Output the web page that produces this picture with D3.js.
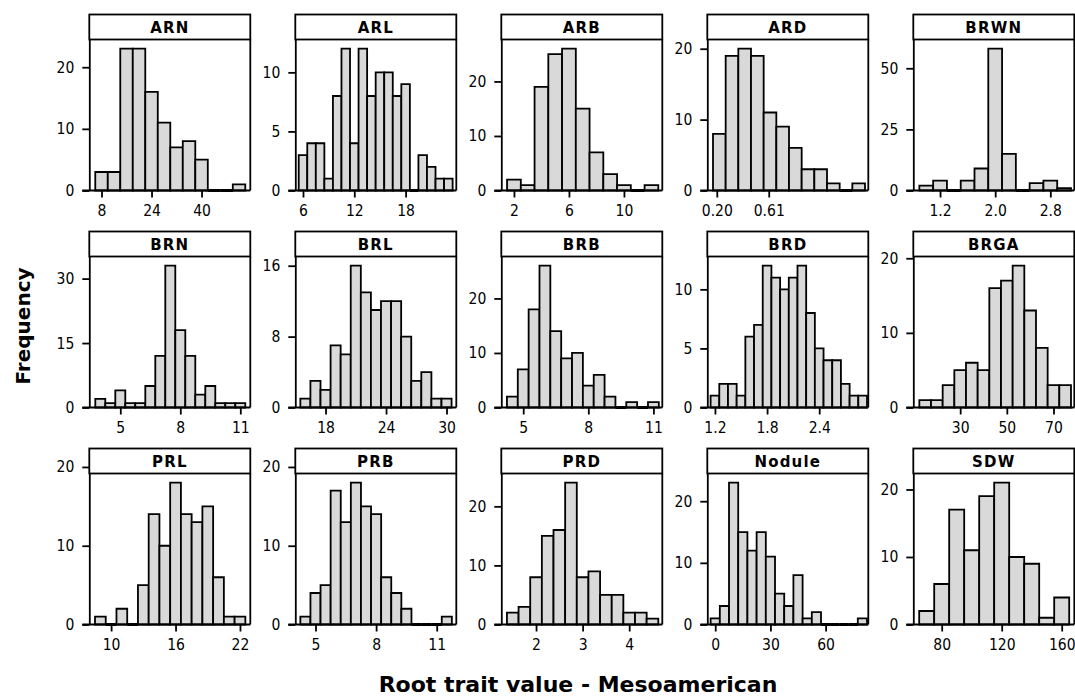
<!DOCTYPE html>
<html>
<head>
<meta charset="utf-8">
<script src="https://cdn.jsdelivr.net/npm/d3@7"></script>
<style>
  body { margin: 0; background: #fff; }
  svg text { font-family: "DejaVu Sans", Verdana, sans-serif; fill: #000; }
  svg .tick text { font-family: "DejaVu Sans Condensed", "DejaVu Sans", sans-serif; }
</style>
</head>
<body>
<svg id="chart" width="1075" height="698"></svg>
<script>
// Root trait histograms, one panel per trait (frequency of lines per bin)
const traits = ["ARN", "ARL", "ARB", "ARD", "BRWN",
                "BRN", "BRL", "BRB", "BRD", "BRGA",
                "PRL", "PRB", "PRD", "Nodule", "SDW"];

// lower edge of the first bin and bin width for each trait
const binStart = [6, 5.5, 1.5, 0.17, 0.9,
                  3.75, 15.5, 4.25, 1.15, 12.5,
                  8.5, 4.25, 1.375, -2.5, 65];
const binWidth = [4, 1, 1, 0.1, 0.2,
                  0.5, 1, 0.5, 0.1, 5,
                  1, 0.5, 0.25, 5, 10];

// counts per bin
const counts = [
  [3, 3, 23, 23, 16, 11, 7, 8, 5, 0, 0, 1],
  [3, 4, 4, 1, 8, 12, 4, 12, 8, 10, 10, 8, 9, 0, 3, 2, 1, 1],
  [2, 1, 19, 25, 26, 15, 7, 3, 1, 0, 1],
  [8, 19, 20, 19, 11, 9, 6, 3, 3, 1, 0, 1],
  [2, 4, 0, 4, 9, 58, 15, 0, 3, 4, 1],
  [2, 1, 4, 1, 1, 5, 12, 33, 18, 12, 3, 5, 1, 1, 1],
  [1, 3, 2, 7, 6, 16, 13, 11, 12, 12, 8, 3, 4, 1, 1],
  [2, 7, 18, 26, 14, 9, 10, 4, 6, 2, 0, 1, 0, 1],
  [1, 2, 2, 1, 6, 7, 12, 11, 10, 11, 12, 8, 5, 4, 4, 2, 1, 1],
  [1, 1, 3, 5, 6, 5, 16, 17, 19, 13, 8, 3, 3],
  [1, 0, 2, 0, 5, 14, 10, 18, 14, 13, 15, 6, 1, 1],
  [1, 4, 5, 17, 13, 18, 15, 14, 6, 4, 2, 0, 0, 0, 1],
  [2, 3, 8, 15, 16, 24, 8, 9, 5, 5, 2, 2, 1],
  [1, 3, 23, 15, 12, 15, 11, 5, 3, 8, 1, 2, 0, 0, 0, 0, 1],
  [2, 6, 17, 11, 19, 21, 10, 9, 1, 4]
];

// x-axis limits of each panel
const xLimits = [
  [4.09, 55.6], [5.1, 23.93], [1.08, 12.79], [0.125, 1.396], [0.812, 3.148],
  [3.45, 11.5], [15.0, 30.97], [3.99, 11.41], [1.112, 2.965], [9.91, 78.92],
  [7.97, 22.96], [4.0, 11.97], [1.254, 4.711], [-4.31, 83.21], [61.07, 168.4]
];

const xTicks = [
  [8, 24, 40], [6, 12, 18], [2, 6, 10], [0.20, 0.61], [1.2, 2.0, 2.8],
  [5, 8, 11], [18, 24, 30], [5, 8, 11], [1.2, 1.8, 2.4], [30, 50, 70],
  [10, 16, 22], [5, 8, 11], [2, 3, 4], [0, 30, 60], [80, 120, 160]
];
const xTickLabels = [
  ["8", "24", "40"], ["6", "12", "18"], ["2", "6", "10"], ["0.20", "0.61"], ["1.2", "2.0", "2.8"],
  ["5", "8", "11"], ["18", "24", "30"], ["5", "8", "11"], ["1.2", "1.8", "2.4"], ["30", "50", "70"],
  ["10", "16", "22"], ["5", "8", "11"], ["2", "3", "4"], ["0", "30", "60"], ["80", "120", "160"]
];
const yTicks = [
  [0, 10, 20], [0, 5, 10], [0, 10, 20], [0, 10, 20], [0, 25, 50],
  [0, 15, 30], [0, 8, 16], [0, 10, 20], [0, 5, 10], [0, 10, 20],
  [0, 10, 20], [0, 10, 20], [0, 10, 20], [0, 10, 20], [0, 10, 20]
];

const xTitle = "Root trait value - Mesoamerican";
const yTitle = "Frequency";

// panel grid
const colLeft = 89.3, colStep = 206, plotW = 161;
const rowTop = 39.5, rowStep = 217, plotH = 151, stripH = 25;
const lineW = 1.8;

const svg = d3.select("#chart");

traits.forEach((name, i) => {
  const col = i % 5, row = Math.floor(i / 5);
  const left = colLeft + col * colStep;
  const top = rowTop + row * rowStep;
  const bottom = top + plotH;

  const x = d3.scaleLinear().domain(xLimits[i]).range([left, left + plotW]);
  const y = d3.scaleLinear().domain([0, d3.max(counts[i]) * 1.065]).range([bottom, top]);

  const g = svg.append("g").attr("class", "panel");

  const bins = counts[i].map((c, k) => ({
    lo: binStart[i] + k * binWidth[i],
    hi: binStart[i] + (k + 1) * binWidth[i],
    c
  }));

  // bars (empty bins show as a heavy line on the baseline)
  g.selectAll("path.bar").data(bins).join("path")
    .attr("class", "bar")
    .attr("d", b => `M${x(b.lo)},${y(0)}V${y(b.c)}H${x(b.hi)}V${y(0)}Z`)
    .attr("fill", "#d9d9d9")
    .attr("stroke", "#000")
    .attr("stroke-width", b => b.c === 0 ? 3.2 : lineW)
    .attr("stroke-linejoin", "miter");

  // right edge of the frame
  g.append("line")
    .attr("x1", left + plotW).attr("x2", left + plotW)
    .attr("y1", top).attr("y2", bottom)
    .attr("stroke", "#000").attr("stroke-width", lineW);

  // y axis
  const yAxis = g.append("g")
    .attr("transform", `translate(${left},0)`)
    .call(d3.axisLeft(y).tickValues(yTicks[i]).tickFormat(d3.format("d"))
      .tickSize(7).tickSizeOuter(0).tickPadding(8));

  // x axis
  const labels = xTickLabels[i];
  const xAxis = g.append("g")
    .attr("transform", `translate(0,${bottom})`)
    .call(d3.axisBottom(x).tickValues(xTicks[i])
      .tickFormat((d, k) => labels[k])
      .tickSize(7).tickSizeOuter(0).tickPadding(7));

  [yAxis, xAxis].forEach(a => {
    a.attr("font-family", null).attr("font-size", null);
    a.select(".domain").attr("stroke", "#000").attr("stroke-width", lineW);
    a.selectAll(".tick line").attr("stroke", "#000").attr("stroke-width", lineW);
    a.selectAll(".tick text").style("font-size", "15.5px").attr("fill", "#000");
  });
  // extend baseline left to meet the y-axis zero tick
  xAxis.select(".domain").attr("d", `M${left - 7},0H${left + plotW}`);

  // strip with the trait name
  g.append("rect")
    .attr("x", left).attr("y", top - stripH)
    .attr("width", plotW).attr("height", stripH)
    .attr("fill", "#fff").attr("stroke", "#000").attr("stroke-width", lineW);
  g.append("text")
    .attr("x", left + plotW / 2).attr("y", top - 7)
    .attr("text-anchor", "middle")
    .style("font-size", "15px").style("font-weight", "bold")
    .style("letter-spacing", "1.2px")
    .text(name);
});

// axis titles
svg.append("text")
  .attr("x", 578).attr("y", 692)
  .attr("text-anchor", "middle")
  .style("font-size", "22px").style("font-weight", "bold")
  .text(xTitle);

svg.append("text")
  .attr("transform", "translate(30,326) rotate(-90)")
  .attr("text-anchor", "middle")
  .style("font-size", "20px").style("font-weight", "bold")
  .text(yTitle);
</script>
</body>
</html>
